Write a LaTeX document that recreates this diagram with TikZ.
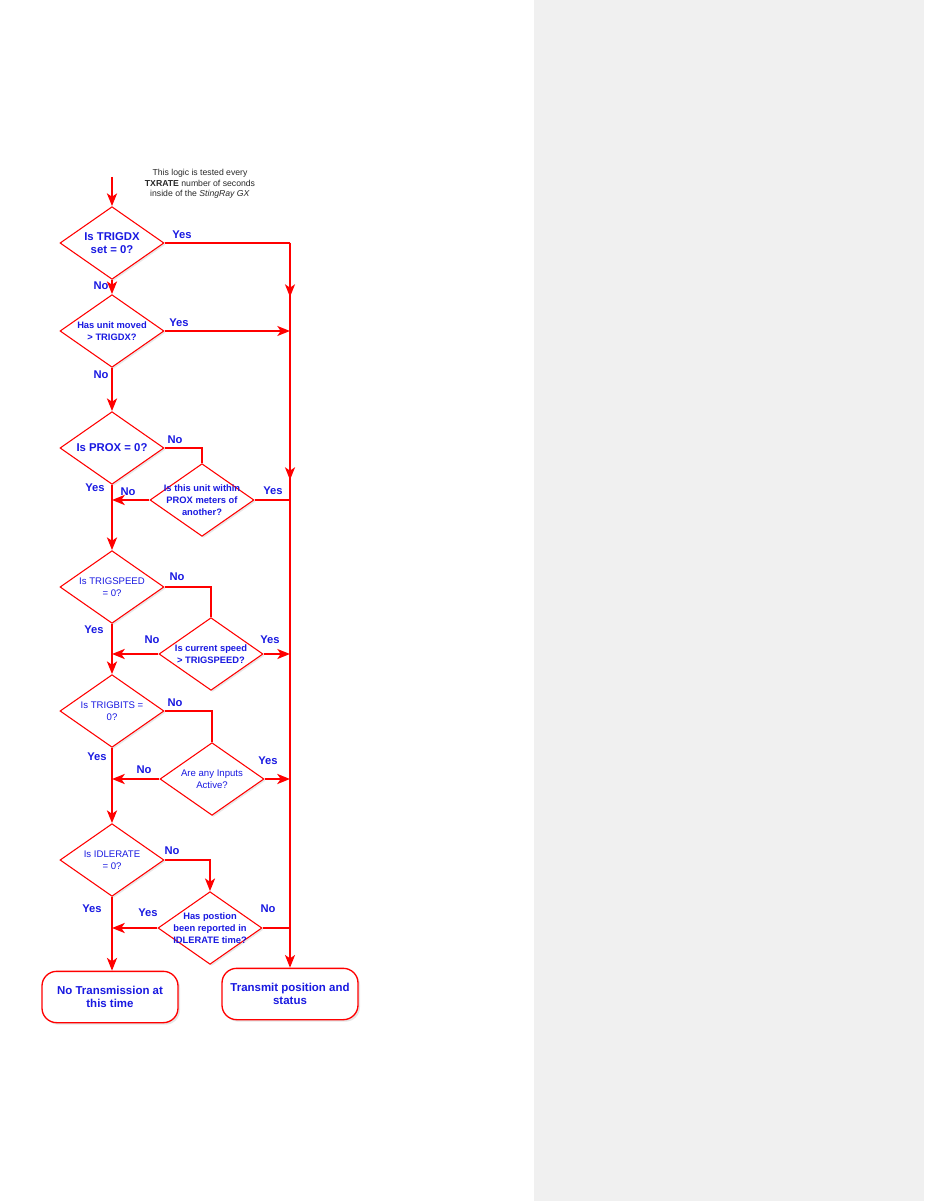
\documentclass[tikz,border=0pt]{standalone}
\usepackage{fontspec}
\setmainfont{Liberation Sans}
\usetikzlibrary{shapes.geometric}
\usetikzlibrary{arrows.meta}
\usetikzlibrary{shadows}

\definecolor{qblue}{RGB}{25,25,225}
\definecolor{pagegray}{RGB}{240,240,240}
\definecolor{notegray}{RGB}{40,40,40}

\tikzset{
  dia/.style={diamond, draw=red, fill=white, line width=0.8pt, inner sep=0pt,
    minimum width=78pt, minimum height=54.5pt,
    drop shadow={opacity=0.18, shadow xshift=1.2pt, shadow yshift=-1.2pt}},
  qbig/.style={text=qblue, font=\bfseries\fontsize{8.5}{10}\selectfont, align=center},
  qsmall/.style={text=qblue, font=\bfseries\fontsize{7}{9}\selectfont, align=center},
  qthin/.style={text=qblue, font=\fontsize{7.2}{9}\selectfont, align=center},
  term/.style={rectangle, rounded corners=11pt, draw=red, fill=white, line width=1pt,
    minimum width=102pt, minimum height=38.5pt, align=center, text=qblue,
    font=\bfseries\fontsize{8.6}{10}\selectfont,
    drop shadow={opacity=0.2, shadow xshift=1.5pt, shadow yshift=-1.5pt}},
  lbl/.style={text=qblue, font=\bfseries\fontsize{8.4}{10}\selectfont, inner sep=0pt},
  wire/.style={draw=red, line width=1pt},
  arr/.style={draw=red, line width=1.4pt, -{Stealth[length=9.5pt,width=7.5pt,inset=2.5pt]}},
  bigarr/.style={arr, line width=2.2pt},
}

\begin{document}
\begin{tikzpicture}[x=0.75pt,y=0.75pt,yscale=-1,xscale=1]
\path[use as bounding box] (0,0) rectangle (924,1201);
% side panel
\fill[pagegray] (534,0) rectangle (924,1201);

% note
\node[text=notegray, font=\fontsize{6.5}{7.9}\selectfont, align=center] (note) at (200,184)
  {This logic is tested every\\\textbf{TXRATE} number of seconds\\inside of the \textit{StingRay GX}};

% Decisions
\node[dia, label={[qbig]center:Is TRIGDX\\set = 0?}] (d1) at (112,243) {};
\node[dia, label={[qsmall]center:Has unit moved\\> TRIGDX?}] (d2) at (112,331) {};
\node[dia, label={[qbig]center:Is PROX = 0?}] (d3) at (112,448) {};
\node[dia, label={[qsmall]center:Is this unit within\\PROX meters of\\another?}] (d4) at (202,500) {};
\node[dia, label={[qthin]center:Is TRIGSPEED\\= 0?}] (d5) at (112,587) {};
\node[dia, label={[qsmall]center:Is current speed\\> TRIGSPEED?}] (d6) at (211,654) {};
\node[dia, label={[qthin]center:Is TRIGBITS =\\0?}] (d7) at (112,711) {};
\node[dia, label={[qthin]center:Are any Inputs\\Active?}] (d8) at (212,779) {};
\node[dia, label={[qthin]center:Is IDLERATE\\= 0?}] (d9) at (112,860) {};
\node[dia, label={[qsmall]center:Has postion\\been reported in\\IDLERATE time?}] (d10) at (210,928) {};

% Ends
\node[term] (t1) at (110,997) {No Transmission at\\this time};
\node[term] (t2) at (290,994) {Transmit position and\\status};

% bus points
\coordinate (start) at (112,177);
\coordinate (b1) at (290,243);
\coordinate (b2) at (290,297);
\coordinate (b3) at (290,480);

% main column
\draw[bigarr] (start) -- (d1.north);
\draw[bigarr] (d1.south) -- (d2.north);
\draw[bigarr] (d2.south) -- (d3.north);
\draw[bigarr] (d3.south) -- (d5.north);
\draw[bigarr] (d5.south) -- (d7.north);
\draw[bigarr] (d7.south) -- (d9.north);
\draw[bigarr] (d9.south) -- (d9.south |- t1.north);

% right bus
\draw[wire] (d1.east) -- (b1);
\draw[arr] (b1) -- (t2.north);
\draw[arr] (b1) -- (b2);
\draw[arr] (b1) -- (b3);

\draw[arr] (d2.east) -- (d2.east -| b1);
\draw[wire] (d4.east) -- (d4.east -| b1);
\draw[arr] (d6.east) -- (d6.east -| b1);
\draw[bigarr] (d8.east) -- (d8.east -| b1);
\draw[wire] (d10.east) -- (d10.east -| b1);

% side checks
\draw[wire] (d3.east) -| (d4.north);
\draw[wire] (d5.east) -| (d6.north);
\draw[wire] (d7.east) -| (d8.north);
\draw[arr] (d9.east) -| (d10.north);

\draw[bigarr] (d4.west) -- (d4.west -| d3.south);
\draw[bigarr] (d6.west) -- (d6.west -| d5.south);
\draw[bigarr] (d8.west) -- (d8.west -| d7.south);
\draw[bigarr] (d10.west) -- (d10.west -| d9.south);

% Yes / No
\node[lbl] (y1) at (182,235) {Yes};
\node[lbl] (n1) at (101,286) {No};
\node[lbl] (y2) at (179,323) {Yes};
\node[lbl] (n2) at (101,375) {No};
\node[lbl] (n3) at (175,440) {No};
\node[lbl] (y3) at (95,488) {Yes};
\node[lbl] (y4) at (273,491) {Yes};
\node[lbl] (n4) at (128,492) {No};
\node[lbl] (n5) at (177,577) {No};
\node[lbl] (y5) at (94,630) {Yes};
\node[lbl] (y6) at (270,640) {Yes};
\node[lbl] (n6) at (152,640) {No};
\node[lbl] (n7) at (175,703) {No};
\node[lbl] (y7) at (97,757) {Yes};
\node[lbl] (y8) at (268,761) {Yes};
\node[lbl] (n8) at (144,770) {No};
\node[lbl] (n9) at (172,851) {No};
\node[lbl] (y9) at (92,909) {Yes};
\node[lbl] (n10) at (268,909) {No};
\node[lbl] (y10) at (148,913) {Yes};

\end{tikzpicture}
\end{document}
